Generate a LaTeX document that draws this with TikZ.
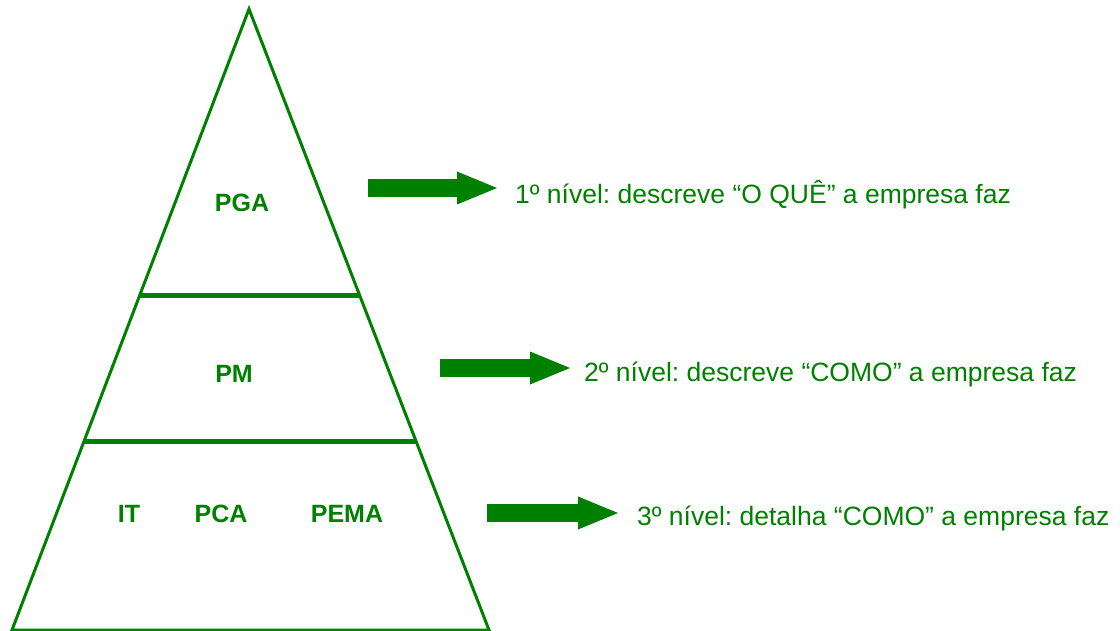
\documentclass[tikz,border=0pt]{standalone}
\usepackage{fontspec}
\setmainfont{Liberation Sans}
\usetikzlibrary{arrows.meta, positioning, calc}
\definecolor{pgreen}{HTML}{008000}
\frenchspacing

\begin{document}
\begin{tikzpicture}[
    x=1pt, y=-1pt,
    every node/.style={text=pgreen, inner sep=0pt},
    layer/.style={font=\fontsize{25}{30}\selectfont\bfseries},
    level/.style={font=\fontsize{26.5}{31}\selectfont, anchor=base west},
    edge/.style={draw=pgreen, line width=3pt},
    divider/.style={draw=pgreen, line width=5pt},
    bigarrow/.style={pgreen, line width=17.5pt,
                     -{Triangle[length=40pt, width=33pt, line width=0pt]}}
]
\useasboundingbox (0,0) rectangle (1120,631);

% --- Pyramid ---
\coordinate (apex) at (249,9);
\coordinate (bl) at (12,630);
\coordinate (br) at (489,630);
\draw[edge] (apex) -- (bl) -- (br) -- cycle;

\coordinate (d1l) at ($(apex)!0.462!(bl)$);
\coordinate (d1r) at ($(apex)!0.462!(br)$);
\coordinate (d2l) at ($(apex)!0.697!(bl)$);
\coordinate (d2r) at ($(apex)!0.697!(br)$);
\draw[divider] (d1l) -- (d1r);
\draw[divider] (d2l) -- (d2r);

% --- Layer labels ---
\node[layer] (pga) at (242,203) {PGA};
\node[layer] (pm) at (234,374) {PM};
\node[layer] (it) at (129,514) {IT};
\node[layer] (pca) at (221,514) {PCA};
\node[layer] (pema) at (347,514) {PEMA};

% --- Level texts ---
\node[level] (lvl1) at (515,204) {1º nível: descreve “O QUÊ” a empresa faz};
\node[level] (lvl2) at (584,381.5) {2º nível: descreve “COMO” a empresa faz};
\node[level] (lvl3) at (637,525) {3º nível: detalha “COMO” a empresa faz};

% --- Arrows ---
\coordinate (a1) at (368,188);
\coordinate (a2) at (440,368);
\coordinate (a3) at (487,513);
\draw[bigarrow, shorten >=18pt] (a1) -- (a1 -| lvl1.west);
\draw[bigarrow, shorten >=14pt] (a2) -- (a2 -| lvl2.west);
\draw[bigarrow, shorten >=19pt] (a3) -- (a3 -| lvl3.west);

\end{tikzpicture}
\end{document}
